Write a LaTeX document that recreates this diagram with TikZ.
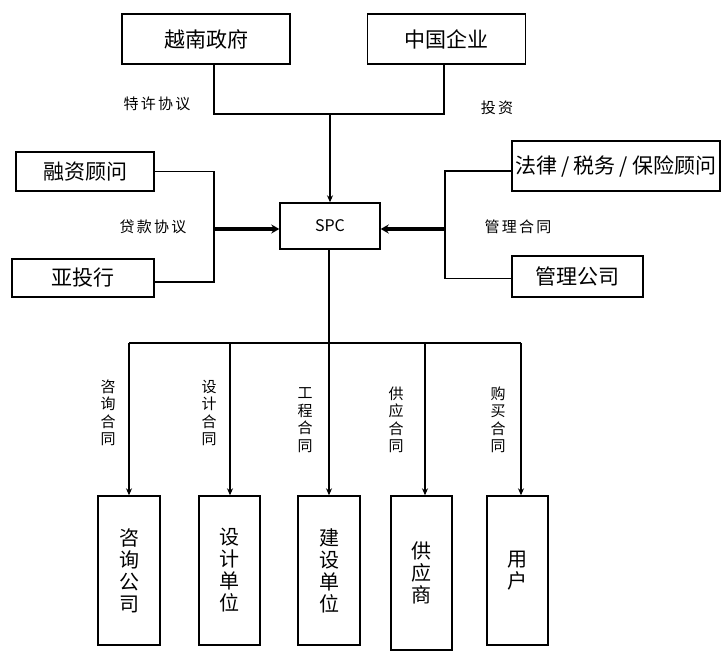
\documentclass[tikz,border=0pt]{standalone}
\usepackage{fontspec}
\setmainfont{Noto Sans CJK SC}
\usetikzlibrary{arrows.meta}
\begin{document}
\begin{tikzpicture}[x=1pt,y=-1pt,
  box/.style={draw, line width=1.4pt, inner sep=0pt, font=\fontsize{21}{24}\selectfont},
  vbox/.style={box, align=center, font=\fontsize{20}{22}\selectfont},
  lbl/.style={inner sep=0pt, font=\fontsize{15}{17}\selectfont\addfontfeature{LetterSpace=15}},
  vlbl/.style={inner sep=0pt, align=center, font=\fontsize{15}{17.5}\selectfont},
  conn/.style={line width=1.1pt},
  arr/.style={conn, -{Stealth[length=7pt,width=6pt]}},
  thickarr/.style={line width=3.2pt, -{Stealth[length=8pt,width=9pt]}}
]
\useasboundingbox[fill=white] (0,0) rectangle (726,653);

% top boxes
\node[box, minimum width=168pt, minimum height=50pt] (vn) at (206,39) {越南政府};
\node[box, minimum width=158pt, minimum height=50pt] (cn) at (446.5,39) {中国企业};
\node[box, minimum width=100pt, minimum height=46pt, font=\fontsize{16}{18}\selectfont] (spc) at (330,226) {SPC};
\node[box, minimum width=138pt, minimum height=39pt] (rz) at (85,171.5) {融资顾问};
\node[box, minimum width=142pt, minimum height=38pt] (ytx) at (83,278) {亚投行};
\node[box, minimum width=208pt, minimum height=50pt] (fl) at (616,166) {法律\hspace{4pt}/\hspace{4pt}税务\hspace{4pt}/\hspace{4pt}保险顾问};
\node[box, minimum width=131pt, minimum height=41pt] (gl) at (577.5,276.5) {管理公司};

% bottom boxes
\node[vbox, minimum width=62pt, minimum height=149pt] (c1) at (129,570.5) {咨\\询\\公\\司};
\node[vbox, minimum width=61pt, minimum height=149pt] (c2) at (229.5,570.5) {设\\计\\单\\位};
\node[vbox, minimum width=62pt, minimum height=149pt] (c3) at (329,570.5) {建\\设\\单\\位};
\node[vbox, minimum width=61pt, minimum height=154pt] (c4) at (421.5,573) {供\\应\\商};
\node[vbox, minimum width=61pt, minimum height=149pt] (c5) at (517.5,570.5) {用\\户};

% labels
\node[lbl] (l1) at (157,104) {特许协议};
\node[lbl] (l2) at (497,108) {投资};
\node[lbl] (l3) at (153,227) {贷款协议};
\node[lbl] (l4) at (518,227) {管理合同};
\node[vlbl] (v1) at (108,413) {咨\\询\\合\\同};
\node[vlbl] (v2) at (209,413) {设\\计\\合\\同};
\node[vlbl] (v3) at (305,420) {工\\程\\合\\同};
\node[vlbl] (v4) at (396,420) {供\\应\\合\\同};
\node[vlbl] (v5) at (498,420) {购\\买\\合\\同};

% top connectors
\coordinate (tl) at (214,114);
\coordinate (tr) at (444,114);
\coordinate (tm) at (330,114);
\draw[conn] (vn.south -| tl) -- (tl) -- (tr) -- (cn.south -| tr);
\draw[arr] (tm) -- (spc.north);

% left bracket
\coordinate (lbus) at (214,229);
\draw[conn] (rz.east) -- (rz.east -| lbus) -- ([yshift=-4pt]ytx.east -| lbus) -- ([yshift=-4pt]ytx.east);
\draw[thickarr] (lbus) -- (spc.west |- lbus);

% right bracket
\coordinate (rbus) at (445,229);
\draw[conn] ([yshift=-5pt]fl.west) -- ([yshift=-5pt]fl.west -| rbus) -- ([yshift=-2pt]gl.west -| rbus) -- ([yshift=-2pt]gl.west);
\draw[thickarr] (rbus) -- (spc.east |- rbus);

% bottom distribution
\coordinate (b1) at (129,343);
\coordinate (b2) at (230,343);
\coordinate (b3) at (329,343);
\coordinate (b4) at (425,343);
\coordinate (b5) at (521,343);
\draw[line width=2pt] (b1) -- (b5);
\draw[conn] (spc.south -| b3) -- (b3);
\draw[arr] (b1) -- (c1.north);
\draw[arr] (b2) -- (b2 |- c2.north);
\draw[arr] (b3) -- (c3.north);
\draw[arr] (b4) -- (b4 |- c4.north);
\draw[arr] (b5) -- (b5 |- c5.north);
\end{tikzpicture}
\end{document}
